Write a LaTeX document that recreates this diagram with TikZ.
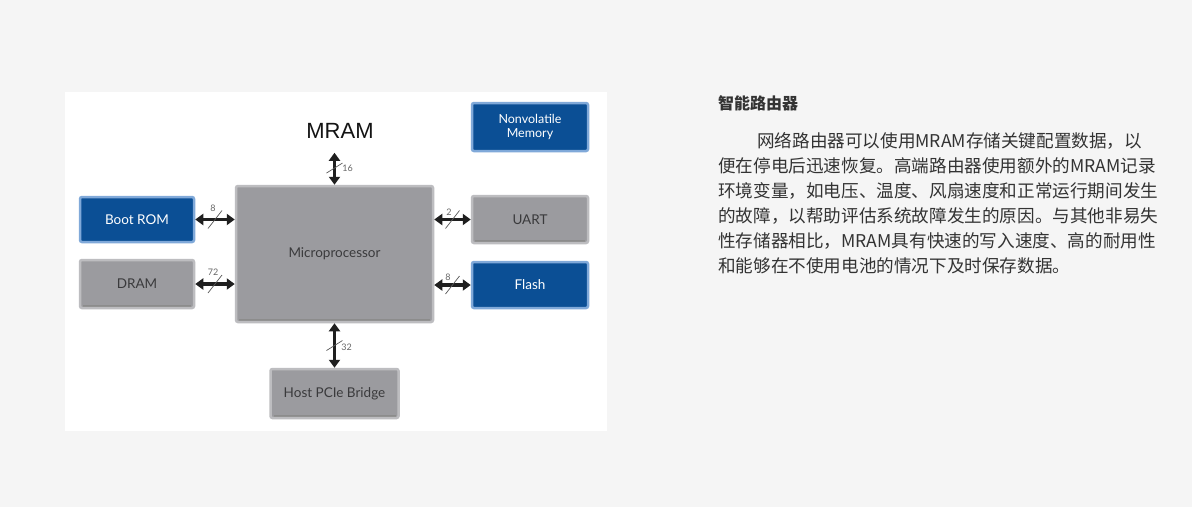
\documentclass[tikz,border=0pt]{standalone}
\usepackage{fontspec}
\setmainfont{Lato}
\newfontfamily\mramfont{Liberation Sans}
\newfontfamily\cjk{Noto Sans CJK SC}
\usetikzlibrary{arrows.meta}

\definecolor{pagebg}{HTML}{F5F5F5}
\definecolor{chipblue}{HTML}{0B4F95}
\definecolor{chipblueedge}{HTML}{80A9D9}
\definecolor{chipgray}{HTML}{9B9B9F}
\definecolor{chipgrayedge}{HTML}{BDBDC0}
\definecolor{chiptext}{HTML}{3A3A3C}
\definecolor{bodytext}{HTML}{333333}

\tikzset{
  chip/.style={rectangle, rounded corners=2pt, line width=2.5pt, align=center,
    font=\fontsize{13.5}{15}\selectfont},
  bluechip/.style={chip, fill=chipblue, draw=chipblueedge, text=white},
  graychip/.style={chip, fill=chipgray, draw=chipgrayedge, text=chiptext,
    path picture={\draw[black!45, line width=1.5pt]
      ([xshift=3pt,yshift=2pt]path picture bounding box.south west) --
      ([xshift=-3pt,yshift=2pt]path picture bounding box.south east);}},
  bus/.style={{Triangle[length=8pt,width=11pt]}-{Triangle[length=8pt,width=11pt]},
    line width=3.5pt, draw=black!88},
  buscut/.style={draw=black!65, line width=0.7pt},
  buswidth/.style={font=\fontsize{9}{9}\selectfont, text=black!60, inner sep=0pt},
  para/.style={anchor=base west, inner sep=0pt, text=bodytext,
    font=\cjk\fontsize{17.6}{25}\selectfont},
}

\begin{document}
\begin{tikzpicture}[x=1pt,y=-1pt]
    % page and panel
    \fill[pagebg] (0,0) rectangle (1192,507);
    \fill[white] (65,92) rectangle (607,431);

    % blocks
    \node[graychip, minimum width=197pt, minimum height=136pt] (micro) at (334.5,254) {Microprocessor};
    \node[font=\mramfont\fontsize{22}{22}\selectfont, text=black!92, inner sep=2pt] (mram) at (340,131) {MRAM};
    \node[bluechip, minimum width=116pt, minimum height=48pt, font=\fontsize{12.5}{14}\selectfont] (nvm) at (530,127) {Nonvolatile\\Memory};
    \node[bluechip, minimum width=114pt, minimum height=45pt] (bootrom) at (137,219.5) {Boot ROM};
    \node[graychip, minimum width=114pt, minimum height=48pt] (dram) at (137,284) {DRAM};
    \node[graychip, minimum width=116pt, minimum height=47pt] (uart) at (530,219.5) {UART};
    \node[bluechip, minimum width=116pt, minimum height=46pt] (flash) at (530,285) {Flash};
    \node[graychip, minimum width=128pt, minimum height=49pt] (pcie) at (334.5,393.5) {Host PCIe Bridge};

    % buses
    \draw[bus, shorten >=12pt] (micro.north) -- coordinate[pos=0.38] (c0) (micro.north |- mram.south);
    \draw[buscut] (c0) ++(-8,5) -- ++(16,-10);
    \node[buswidth] (w0) at ([xshift=13pt]c0) {16};

    \draw[bus] (bootrom.east) -- coordinate (c1) (bootrom.east -| micro.west);
    \draw[buscut] (c1) ++(-7,9) -- ++(14,-18);
    \node[buswidth] (w1) at ([xshift=-2pt,yshift=11.5pt]c1) {8};

    \draw[bus] (dram.east) -- coordinate (c2) (dram.east -| micro.west);
    \draw[buscut] (c2) ++(-7,9) -- ++(14,-18);
    \node[buswidth] (w2) at ([xshift=-2pt,yshift=12pt]c2) {72};

    \draw[bus] (micro.east |- uart.west) -- coordinate (c3) (uart.west);
    \draw[buscut] (c3) ++(-7,9) -- ++(14,-18);
    \node[buswidth] (w3) at ([xshift=-3.5pt,yshift=7.5pt]c3) {2};

    \draw[bus] (micro.east |- flash.west) -- coordinate (c4) (flash.west);
    \draw[buscut] (c4) ++(-7,9) -- ++(14,-18);
    \node[buswidth] (w4) at ([xshift=-4.5pt,yshift=8pt]c4) {8};

    \draw[bus] (micro.south) -- coordinate (c5) (pcie.north);
    \draw[buscut] (c5) ++(-8,5) -- ++(16,-10);
    \node[buswidth] (w5) at ([xshift=12pt,yshift=-1.5pt]c5) {32};

    % article text
    \node[para, font=\cjk\bfseries\fontsize{16}{16}\selectfont] (title) at (718,109) {智能路由器};
    \foreach \txt [count=\i] in {\hspace*{39pt}网络路由器可以使用MRAM存储关键配置数据，以,
        便在停电后迅速恢复。高端路由器使用额外的MRAM记录,
        环境变量，如电压、温度、风扇速度和正常运行期间发生,
        的故障，以帮助评估系统故障发生的原因。与其他非易失,
        性存储器相比，MRAM具有快速的写入速度、高的耐用性,
        和能够在不使用电池的情况下及时保存数据。}
      \node[para] (line\i) at (718,{122.5+25*\i}) {\txt};
\end{tikzpicture}
\end{document}
